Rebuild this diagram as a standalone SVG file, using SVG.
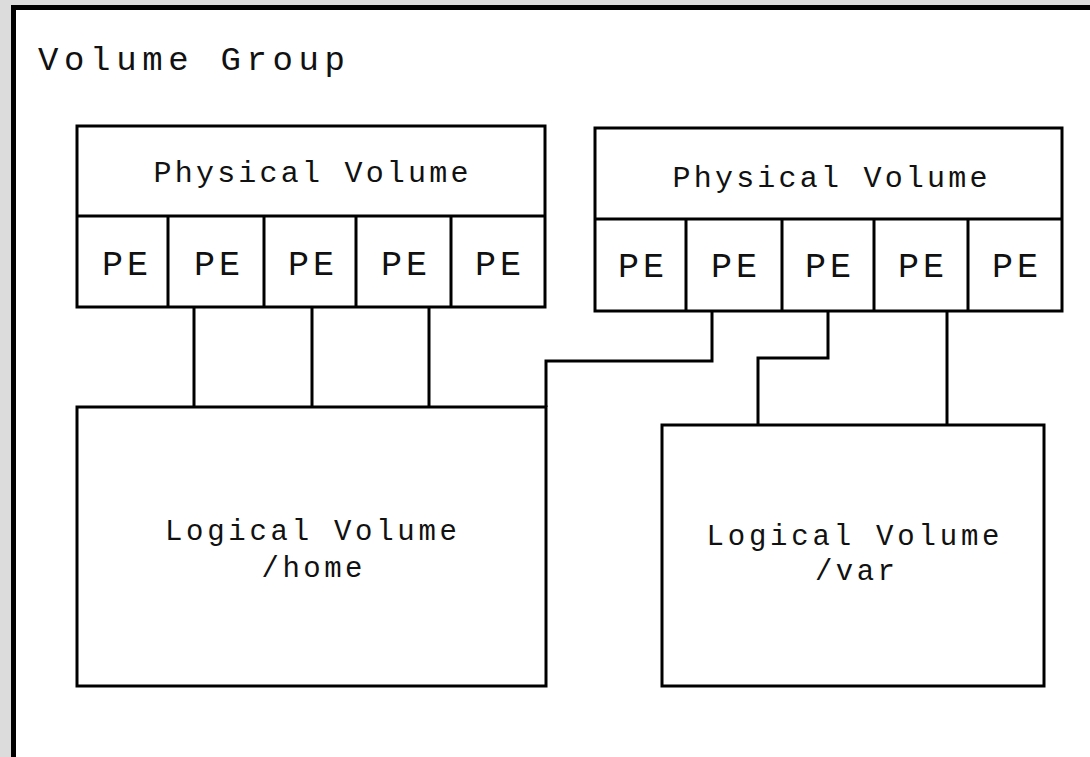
<svg xmlns="http://www.w3.org/2000/svg" width="1090" height="757" viewBox="0 0 1090 757">
<style>
.box{fill:#fff;stroke:#000;stroke-width:3}
.ln{fill:none;stroke:#000;stroke-width:3}
.t{font-family:"Liberation Mono","Courier New",monospace;fill:#111;text-anchor:middle}
.pv{font-size:30px}
.pe{font-size:35px}
.lv{font-size:29px}
</style>
<rect x="0" y="0" width="1090" height="757" fill="#dcdcdc"/>
<rect x="11" y="5" width="1079" height="752" fill="#000"/>
<rect x="16" y="10" width="1074" height="747" fill="#fff"/>
<text x="38" y="70" font-family="Liberation Mono, Courier New, monospace" font-size="34" fill="#111" textLength="307" lengthAdjust="spacing">Volume Group</text>
<g id="connectors">
<path class="ln" d="M194 307V407M312 307V407M429 307V407"/>
<path class="ln" d="M712 311V361H546V407"/>
<path class="ln" d="M828 311V358H758V425"/>
<path class="ln" d="M947 311V425"/>
</g>
<g id="pv1">
<rect class="box" x="77" y="126" width="468" height="181"/>
<path class="ln" d="M77 216H545M168 216V307M264 216V307M356 216V307M451 216V307"/>
<text class="t pv" x="311" y="182" textLength="315" lengthAdjust="spacing">Physical Volume</text>
<text class="t pe" x="125" y="275" textLength="46" lengthAdjust="spacing">PE</text>
<text class="t pe" x="217" y="275" textLength="46" lengthAdjust="spacing">PE</text>
<text class="t pe" x="311" y="275" textLength="46" lengthAdjust="spacing">PE</text>
<text class="t pe" x="404" y="275" textLength="46" lengthAdjust="spacing">PE</text>
<text class="t pe" x="498" y="275" textLength="46" lengthAdjust="spacing">PE</text>
</g>
<g id="pv2">
<rect class="box" x="595" y="128" width="467" height="183"/>
<path class="ln" d="M595 219H1062M686 219V311M782 219V311M874 219V311M968 219V311"/>
<text class="t pv" x="830" y="187" textLength="315" lengthAdjust="spacing">Physical Volume</text>
<text class="t pe" x="641" y="277" textLength="46" lengthAdjust="spacing">PE</text>
<text class="t pe" x="734" y="277" textLength="46" lengthAdjust="spacing">PE</text>
<text class="t pe" x="828" y="277" textLength="46" lengthAdjust="spacing">PE</text>
<text class="t pe" x="921" y="277" textLength="46" lengthAdjust="spacing">PE</text>
<text class="t pe" x="1015" y="277" textLength="46" lengthAdjust="spacing">PE</text>
</g>
<g id="lv-home">
<rect class="box" x="77" y="407" width="469" height="279"/>
<text class="t lv" x="311" y="540" textLength="292" lengthAdjust="spacing">Logical Volume</text>
<text class="t lv" x="312" y="577" textLength="101" lengthAdjust="spacing">/home</text>
</g>
<g id="lv-var">
<rect class="box" x="662" y="425" width="382" height="261"/>
<text class="t lv" x="853" y="545" textLength="293" lengthAdjust="spacing">Logical Volume</text>
<text class="t lv" x="855" y="580" textLength="80" lengthAdjust="spacing">/var</text>
</g>
</svg>
